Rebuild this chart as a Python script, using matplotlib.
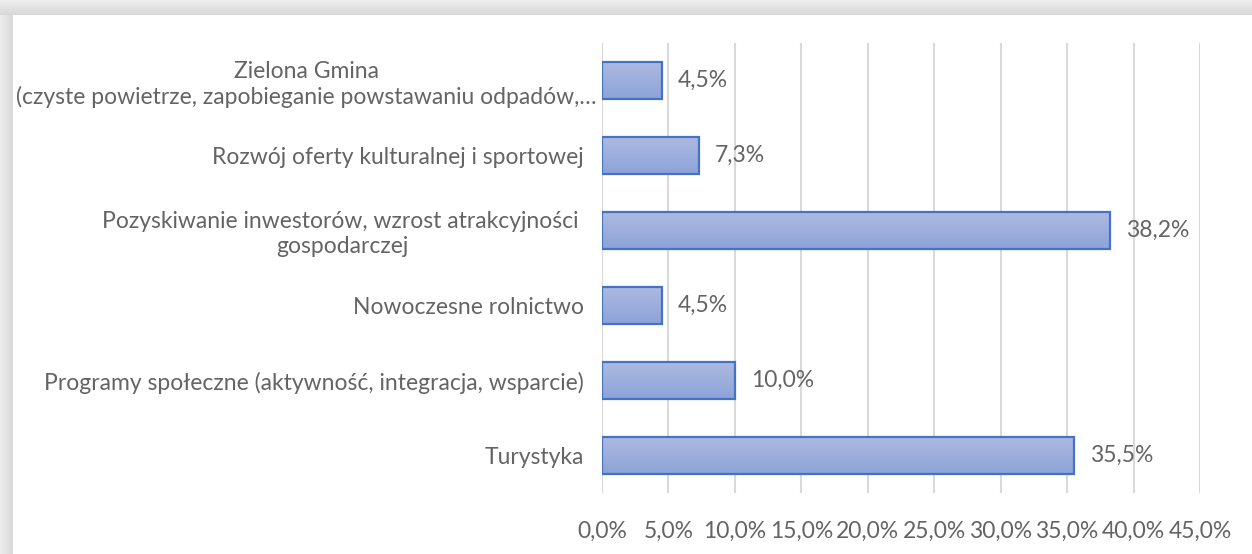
import matplotlib
matplotlib.use("Agg")
import matplotlib.pyplot as plt
import matplotlib.transforms as mtransforms
import numpy as np
from matplotlib.ticker import MultipleLocator, FuncFormatter

plt.rcParams['font.family'] = ['Lato', 'DejaVu Sans']

categories = [
    "Zielona Gmina\n(czyste powietrze, zapobieganie powstawaniu odpadów,…",
    "Rozwój oferty kulturalnej i sportowej",
    "Pozyskiwanie inwestorów, wzrost atrakcyjności \ngospodarczej",
    "Nowoczesne rolnictwo",
    "Programy społeczne (aktywność, integracja, wsparcie)",
    "Turystyka",
]
values = [4.5, 7.3, 38.2, 4.5, 10.0, 35.5]
value_labels = ["4,5%", "7,3%", "38,2%", "4,5%", "10,0%", "35,5%"]

TEXT = "#646464"
GRID = "#D9D9D9"
EDGE = "#4472C4"
FS = 16.5

W, H = 1252, 554
fig = plt.figure(figsize=(W / 100, H / 100), dpi=100)
fig.patch.set_facecolor("white")

# soft frame shadow along the left and top edges
bg = fig.add_axes([0, 0, 1, 1], zorder=-10)
bg.set_axis_off()
img = np.ones((H, W, 3))
for i in range(15):
    g = 0.93 - 0.08 * (i / 14)
    img[i:15, :] = g
for j in range(13):
    g = 0.93 - 0.08 * (j / 12)
    img[15:, j:13] = np.minimum(img[15:, j:13], g)
bg.imshow(img, extent=[0, W, H, 0], aspect="auto", interpolation="bilinear")
bg.set_xlim(0, W)
bg.set_ylim(H, 0)

ax = fig.add_axes([602 / W, 1 - 493 / H, (1200 - 602) / W, (493 - 43) / H])
ax.set_facecolor("none")

y = np.arange(len(categories))
bars = ax.barh(y, values, height=0.5, facecolor="none", edgecolor=EDGE,
               linewidth=1.6, zorder=3)

# vertical gradient fill inside each bar
grad = np.linspace(0, 1, 64).reshape(-1, 1)
top_c = np.array([0.68, 0.73, 0.88])
bot_c = np.array([0.55, 0.64, 0.85])
grad_img = top_c + (bot_c - top_c) * grad[..., None]
grad_img = grad_img.reshape(64, 1, 3)
for b in bars:
    x0, y0 = b.get_x(), b.get_y()
    w, h = b.get_width(), b.get_height()
    ax.imshow(grad_img, extent=[x0, x0 + w, y0 + h, y0], aspect="auto",
              interpolation="bilinear", zorder=2)

for b, lab in zip(bars, value_labels):
    ax.annotate(lab, (b.get_width(), b.get_y() + b.get_height() / 2),
                xytext=(11.5, 0), textcoords="offset points",
                va="center", ha="left", color=TEXT, fontsize=FS)

ax.set_xlim(0, 45)
ax.set_ylim(len(categories) - 0.5, -0.5)
ax.xaxis.set_major_locator(MultipleLocator(5))
ax.xaxis.set_major_formatter(FuncFormatter(lambda v, p: f"{v:.1f}%".replace(".", ",")))
ax.grid(axis="x", color=GRID, linewidth=1.5, zorder=0)
ax.set_axisbelow(True)
for s in ax.spines.values():
    s.set_visible(False)
ax.tick_params(axis="both", length=0, colors=TEXT, labelsize=FS)
ax.tick_params(axis="x", pad=20)
ax.set_yticks(y)
ax.set_yticklabels(categories, multialignment="center", linespacing=1.2)
ax.tick_params(axis="y", pad=13)

# the long, truncated first label sits slightly closer to the axis
first = ax.get_yticklabels()[0]
first.set_transform(first.get_transform() +
                    mtransforms.ScaledTranslation(13 / 100, 0, fig.dpi_scale_trans))

fig.savefig("out.png", dpi=100)
